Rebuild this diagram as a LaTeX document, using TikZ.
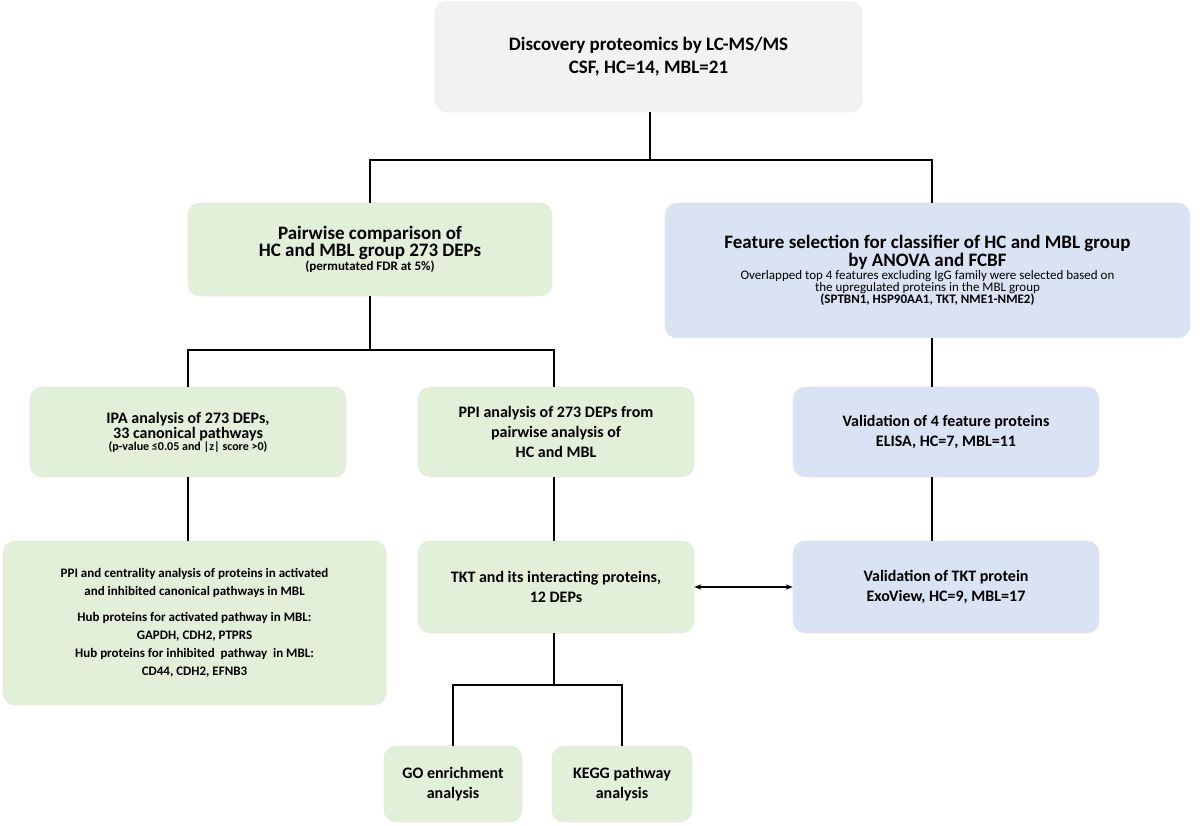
\documentclass[tikz,border=0pt]{standalone}
\usepackage{fontspec}
\setmainfont{Carlito}
\usetikzlibrary{arrows.meta}
\definecolor{gr}{HTML}{E2EFD9}
\definecolor{bl}{HTML}{DAE3F3}
\definecolor{gy}{HTML}{F2F2F2}
\begin{document}
\begin{tikzpicture}[x=1pt,y=-1pt,
 box/.style={rounded corners=12pt,draw=#1!70!black!25,fill=#1,line width=0.6pt,align=center,font=\bfseries,inner sep=2pt},
 ln/.style={line width=1.8pt,black}]
\useasboundingbox (0,0) rectangle (1200,826);
\newcommand\bx[6]{\node[box=#2,minimum width=#5-#3,minimum height=#6-#4,text width=#5-#3-10] (#1) at ({(#3+#5)/2},{(#4+#6)/2}) {};}
\bx{top}{gy}{435}{2}{862}{112}
\node[font=\bfseries\fontsize{19}{23}\selectfont,align=center] at (top) {Discovery proteomics by LC-MS/MS\\CSF, HC=14, MBL=21};
\bx{pw}{gr}{188}{203}{552}{296}
\node[font=\bfseries,align=center] at (pw) {{\fontsize{19}{22}\selectfont Pairwise comparison of}\\{\fontsize{19}{22}\selectfont HC and MBL group 273 DEPs}\\{\fontsize{13}{16}\selectfont (permutated FDR at 5\%)}};
\bx{fs}{bl}{665}{203}{1190}{338}
\node[align=center] at (fs) {{\bfseries\fontsize{19}{22}\selectfont Feature selection for classifier of HC and MBL group}\\{\bfseries\fontsize{19}{22}\selectfont by ANOVA and FCBF}\\{\fontsize{13}{16}\selectfont Overlapped top 4 features excluding IgG family were selected based on}\\{\fontsize{13}{16}\selectfont the upregulated proteins in the MBL group}\\{\bfseries\fontsize{13}{16}\selectfont (SPTBN1, HSP90AA1, TKT, NME1-NME2)}};
\bx{ipa}{gr}{30}{387}{346}{477}
\node[font=\bfseries,align=center] at (ipa) {{\fontsize{16}{20}\selectfont IPA analysis of 273 DEPs,}\\{\fontsize{16}{20}\selectfont 33 canonical pathways}\\{\fontsize{12}{16}\selectfont (p-value ≤0.05 and |z| score >0)}};
\bx{ppi}{gr}{418}{387}{694}{477}
\node[font=\bfseries\fontsize{16}{20}\selectfont,align=center] at (ppi) {PPI analysis of 273 DEPs from\\pairwise analysis of\\HC and MBL};
\bx{v4}{bl}{793}{387}{1099}{477}
\node[font=\bfseries\fontsize{16}{20}\selectfont,align=center] at (v4) {Validation of 4 feature proteins\\ELISA, HC=7, MBL=11};
\bx{hub}{gr}{3}{541}{386}{705}
\node[font=\bfseries\fontsize{13}{18}\selectfont,align=center] at (hub) {PPI and centrality analysis of proteins in activated\\and inhibited canonical pathways in MBL\\[8pt]Hub proteins for activated pathway in MBL:\\GAPDH, CDH2, PTPRS\\Hub proteins for inhibited\ \ pathway\ \ in MBL:\\CD44, CDH2, EFNB3};
\bx{tkt}{gr}{418}{541}{694}{633}
\node[font=\bfseries\fontsize{16}{20}\selectfont,align=center] at (tkt) {TKT and its interacting proteins,\\12 DEPs};
\bx{vt}{bl}{793}{541}{1099}{633}
\node[font=\bfseries\fontsize{16}{20}\selectfont,align=center] at (vt) {Validation of TKT protein\\ExoView, HC=9, MBL=17};
\bx{go}{gr}{384}{746}{522}{822}
\node[font=\bfseries\fontsize{16}{20}\selectfont,align=center] at (go) {GO enrichment\\analysis};
\bx{kegg}{gr}{552}{746}{692}{822}
\node[font=\bfseries\fontsize{16}{20}\selectfont,align=center] at (kegg) {KEGG pathway\\analysis};
\coordinate (a) at (650,160);
\draw[ln] (top.south -| a) -- (a);
\draw[ln] (pw.north -| 370,0) -- (370,160) -- (932,160) -- (fs.north -| 932,0);
\draw[ln] (pw.south -| 370,0) -- (370,350) -- (188,350) -- (ipa.north -| 188,0);
\draw[ln] (370,350) -- (554,350) -- (ppi.north -| 554,0);
\draw[ln] (fs.south -| 932,0) -- (v4.north -| 932,0);
\draw[ln] (ipa.south -| 188,0) -- (hub.north -| 188,0);
\draw[ln] (ppi.south -| 554,0) -- (tkt.north -| 554,0);
\draw[ln] (v4.south -| 932,0) -- (vt.north -| 932,0);
\draw[ln] (tkt.south -| 554,0) -- (554,685) -- (453,685) -- (go.north -| 453,0);
\draw[ln] (554,685) -- (622,685) -- (kegg.north -| 622,0);
\draw[line width=1.2pt,{Stealth[length=7pt]}-{Stealth[length=7pt]}] (tkt.east |- 0,587) -- (vt.west |- 0,587);
\end{tikzpicture}
\end{document}
